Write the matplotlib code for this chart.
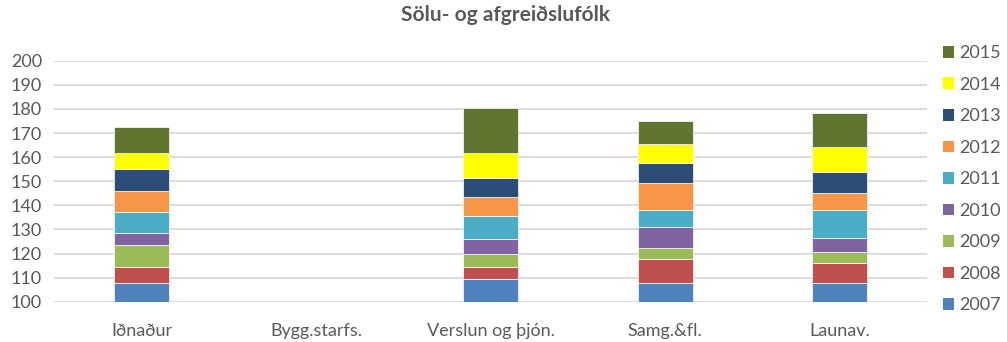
import numpy as np
import matplotlib.pyplot as plt
from matplotlib.patches import Patch

# categories and yearly stacked values (per-year segments)
categories = ["Iðnaður", "Bygg.starfs.", "Verslun og þjón.", "Samg.&fl.", "Launav."]
years = ["2007", "2008", "2009", "2010", "2011", "2012", "2013", "2014", "2015"]
v2007 = [107.6, 0, 109.3, 107.6, 107.6]
v2008 = [6.9, 0, 5.2, 10.2, 8.6]
v2009 = [8.9, 0, 5.3, 4.6, 4.4]
v2010 = [5.2, 0, 6.1, 8.7, 6.0]
v2011 = [8.7, 0, 9.6, 6.9, 11.4]
v2012 = [8.8, 0, 8.1, 11.4, 7.2]
v2013 = [8.8, 0, 7.9, 8.0, 8.6]
v2014 = [6.9, 0, 10.3, 7.9, 10.5]
v2015 = [10.5, 0, 18.4, 9.7, 14.1]
series = [v2007, v2008, v2009, v2010, v2011, v2012, v2013, v2014, v2015]

colors = ["#4F81BD", "#C0504D", "#9BBB59", "#8064A2", "#4BACC6",
          "#F79646", "#2C4D75", "#FFFF00", "#5F7530"]

plt.rcParams['font.family'] = ['Lato', 'DejaVu Sans']
grey = "#595959"

fig = plt.figure(figsize=(10.07, 3.42), dpi=100)
ax = fig.add_axes([0.0541, 0.1178, 0.8664, 0.7047])

x = np.arange(len(categories))
bottom = np.zeros(len(categories))
for vals, col in zip(series, colors):
    vals = np.array(vals, dtype=float)
    ax.bar(x, vals, width=0.315, bottom=bottom, color=col,
           edgecolor="white", linewidth=0.5, zorder=3)
    bottom += vals

ax.set_ylim(100, 200)
ax.set_xlim(-0.5, len(categories) - 0.5)
ax.set_yticks(np.arange(100, 201, 10))
ax.yaxis.grid(True, color="#D9D9D9", linewidth=1.3, zorder=0)
ax.set_xticks(x)
ax.set_xticklabels(categories)
ax.tick_params(axis='both', length=0, labelsize=13, labelcolor=grey)
ax.tick_params(axis='x', pad=15)
ax.tick_params(axis='y', pad=9)
for s in ax.spines.values():
    s.set_visible(False)

fig.text(0.502, 0.955, "Sölu- og afgreiðslufólk", ha="center", va="center",
         fontsize=15, fontweight="bold", color=grey)

handles = [Patch(facecolor=c) for c in colors][::-1]
fig.legend(handles, years[::-1], loc="upper left", bbox_to_anchor=(0.936, 0.868),
           frameon=False, fontsize=13, labelcolor=grey, handlelength=0.62,
           handleheight=0.62, handletextpad=0.3, labelspacing=0.86,
           borderaxespad=0, borderpad=0)

fig.savefig("out.png", dpi=100)
